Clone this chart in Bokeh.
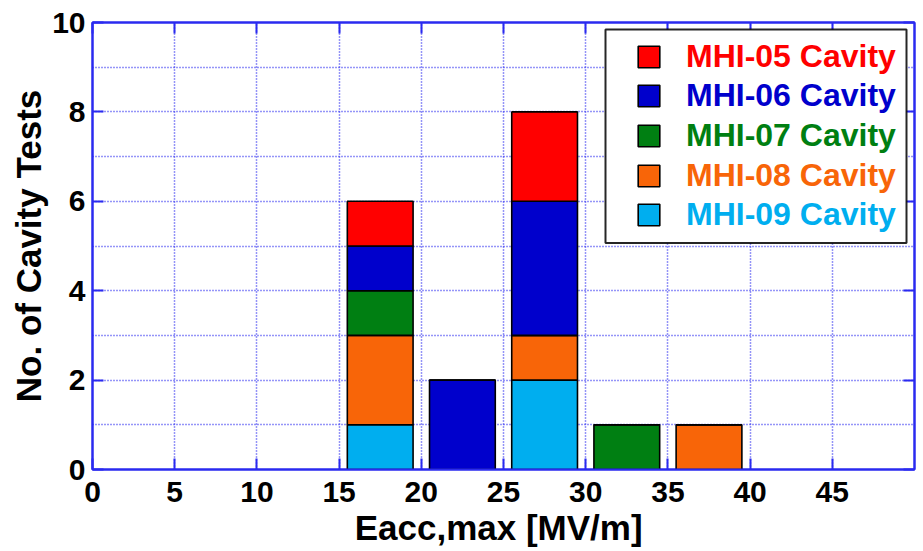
from bokeh.plotting import figure
from bokeh.models import (ColumnDataSource, FixedTicker, LinearAxis, Legend,
                          LegendItem, BoxAnnotation, Range1d)
from bokeh.embed import file_html
from bokeh.resources import INLINE

# ---- data ----
bin_centers = [17.5, 22.5, 27.5, 32.5, 37.5]
mhi05 = [1, 0, 2, 0, 0]
mhi06 = [1, 2, 3, 0, 0]
mhi07 = [1, 0, 0, 1, 0]
mhi08 = [2, 0, 1, 0, 1]
mhi09 = [1, 0, 2, 0, 0]
series_labels = ["MHI-05 Cavity", "MHI-06 Cavity", "MHI-07 Cavity",
                 "MHI-08 Cavity", "MHI-09 Cavity"]
series_colors = ["#ff0000", "#0000cc", "#007f12", "#f86508", "#00aeef"]
x_ticks = [0, 5, 10, 15, 20, 25, 30, 35, 40, 45]
y_ticks = [0, 2, 4, 6, 8, 10]
y_grid_ticks = [1, 2, 3, 4, 5, 6, 7, 8, 9]

# ---- layout / style ----
AX = "#2a2af0"
FONT = "Liberation Sans"
W, H = 917, 549
BL, BR, BT, BB = 92, 3, 22, 79
FW, FH = W - BL - BR, H - BT - BB
X0, X1, Y0, Y1 = 0, 50, 0, 10

src = ColumnDataSource(dict(x=bin_centers, m05=mhi05, m06=mhi06, m07=mhi07,
                            m08=mhi08, m09=mhi09))

p = figure(width=W, height=H, output_backend="svg", toolbar_location=None,
           x_range=Range1d(X0, X1), y_range=Range1d(Y0, Y1),
           min_border_left=BL, min_border_right=BR, min_border_top=BT,
           min_border_bottom=BB)
p.background_fill_color = "white"
p.border_fill_color = "white"
p.outline_line_color = AX
p.outline_line_width = 2

stack_keys = ["m09", "m08", "m07", "m06", "m05"]
stack_colors = [series_colors[4], series_colors[3], series_colors[2],
                series_colors[1], series_colors[0]]
rs = p.vbar_stack(stack_keys, x="x", width=4, source=src, color=stack_colors,
                  line_color="black", line_width=1.6)
rs = rs[::-1]  # 05 .. 09

# grids
p.xgrid.ticker = FixedTicker(ticks=x_ticks)
p.ygrid.ticker = FixedTicker(ticks=y_grid_ticks)
for g in (p.xgrid, p.ygrid):
    g.grid_line_color = AX
    g.grid_line_width = 1.5
    g.grid_line_dash = "1 2"
    g.grid_line_alpha = 1.0

def style_axis(ax, labels=True):
    ax.axis_line_color = AX
    ax.axis_line_width = 2
    ax.major_tick_line_color = AX
    ax.major_tick_line_width = 2
    ax.major_tick_in = 11
    ax.major_tick_out = 0
    ax.minor_tick_line_color = None
    if labels:
        ax.major_label_text_font = FONT
        ax.major_label_text_font_style = "bold"
        ax.major_label_text_font_size = "30px"
        ax.major_label_text_color = "black"
        ax.axis_label_text_font = FONT
        ax.axis_label_text_font_style = "bold"
        ax.axis_label_text_color = "black"
    else:
        ax.major_label_text_font_size = "0px"
        ax.major_label_standoff = 0
        ax.major_label_text_alpha = 0

xa = p.xaxis[0]
xa.ticker = FixedTicker(ticks=x_ticks)
xa.axis_label = "Eacc,max  [MV/m]"
style_axis(xa)
xa.axis_label_text_font_size = "35px"
xa.major_label_standoff = 12
xa.axis_label_standoff = 3

ya = p.yaxis[0]
ya.ticker = FixedTicker(ticks=y_ticks)
ya.axis_label = "No. of Cavity Tests"
style_axis(ya)
ya.axis_label_text_font_size = "35px"
ya.major_label_standoff = 7
ya.axis_label_standoff = 1

top_ax = LinearAxis(ticker=FixedTicker(ticks=x_ticks))
style_axis(top_ax, labels=False)
p.add_layout(top_ax, "above")
right_ax = LinearAxis(ticker=FixedTicker(ticks=y_ticks))
style_axis(right_ax, labels=False)
p.add_layout(right_ax, "right")

# legend frame (pixel offsets inside the plot frame -> data units)
px_x = FW / (X1 - X0)
px_y = FH / (Y1 - Y0)
box_left_px, box_right_px = 513, FW - 8
box_top_px, box_bot_px = 7, 221
box = BoxAnnotation(left=X0 + box_left_px / px_x, right=X0 + box_right_px / px_x,
                    top=Y1 - box_top_px / px_y, bottom=Y1 - box_bot_px / px_y,
                    fill_color="white", fill_alpha=1.0,
                    line_color="black", line_width=2, line_alpha=0.85)
p.add_layout(box)

row_h = 40
for i, (lab, col, r) in enumerate(zip(series_labels, series_colors, rs)):
    center_from_top = 35 + 39.7 * i  # px below frame top
    leg = Legend(items=[LegendItem(label=lab, renderers=[r])],
                 location=(543, FH - (center_from_top + row_h / 2)),
                 padding=0, spacing=0, margin=0,
                 glyph_width=27, glyph_height=27, label_height=row_h,
                 label_standoff=24,
                 label_text_font=FONT, label_text_font_style="bold",
                 label_text_font_size="32px", label_text_color=col,
                 label_text_baseline="middle",
                 border_line_alpha=0, background_fill_alpha=0)
    p.add_layout(leg)

open("out.html", "w").write(file_html(p, INLINE))
